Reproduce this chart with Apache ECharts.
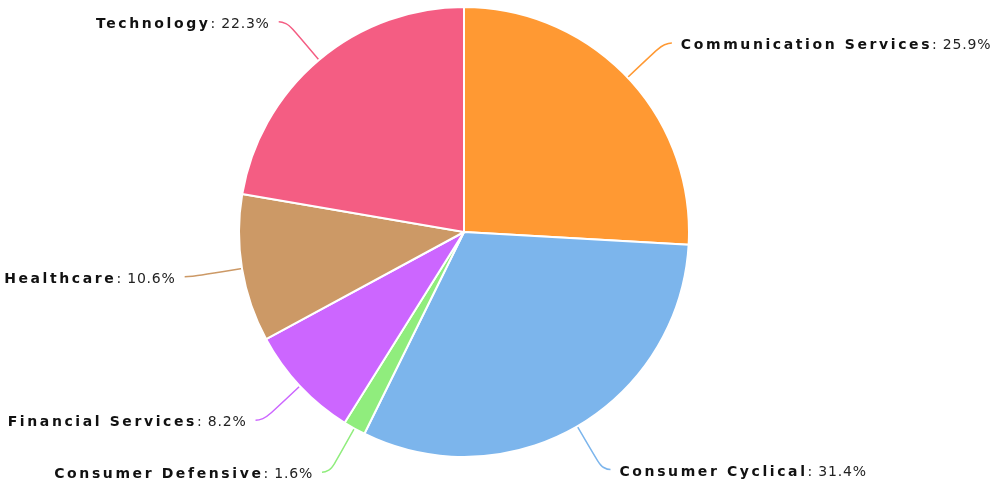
<!DOCTYPE html>
<html>
<head>
<meta charset="utf-8">
<script src="https://cdn.jsdelivr.net/npm/echarts@6/dist/echarts.min.js"></script>
<style>
  html, body { margin: 0; padding: 0; background: #fff; }
  #chart { width: 1001px; height: 488px; }
</style>
</head>
<body>
<div id="chart"></div>
<script>
// sectors and their share (%)
const sectors = ['Communication Services', 'Consumer Cyclical', 'Consumer Defensive', 'Financial Services', 'Healthcare', 'Technology']
const shares = [25.9, 31.4, 1.6, 8.2, 10.6, 22.3]
const palette = ['#ff9933', '#7cb5ec', '#90ed7d', '#cc66ff', '#cc9966', '#f45d83']

// letter spacing for the labels (bold names are spread wide)
const spacingFor = (font) => (/bold/.test(font) ? 2.6 : 0.8) + 'px'
const proto = CanvasRenderingContext2D.prototype
const origFill = proto.fillText
proto.fillText = function (t, x, y, m) {
  this.letterSpacing = spacingFor(this.font)
  return m === undefined ? origFill.call(this, t, x, y) : origFill.call(this, t, x, y, m)
}
const origMeasure = proto.measureText
proto.measureText = function (t) {
  this.letterSpacing = spacingFor(this.font)
  return origMeasure.call(this, t)
}

const chart = echarts.init(document.getElementById('chart'))
chart.setOption({
  animation: false,
  color: palette,
  series: [
    {
      type: 'pie',
      center: [464, 232],
      radius: 225,
      startAngle: 90,
      clockwise: true,
      itemStyle: { borderColor: '#fff', borderWidth: 2 },
      label: {
        show: true,
        overflow: 'none',
        formatter: '{n|{b}}{v|: {c}%}',
        distanceToLabelLine: 9,
        padding: [5, 0, 0, 0],
        rich: {
          n: { fontFamily: 'DejaVu Sans', fontWeight: 'bold', fontSize: 14, color: '#111' },
          v: { fontFamily: 'DejaVu Sans', fontSize: 14, color: '#222' },
        },
      },
      labelLine: {
        show: true,
        length: 50,
        length2: 8,
        smooth: 0.6,
        lineStyle: { width: 1.5 },
      },
      data: sectors.map((name, i) => ({ name, value: shares[i] })),
    },
  ],
})
</script>
</body>
</html>
